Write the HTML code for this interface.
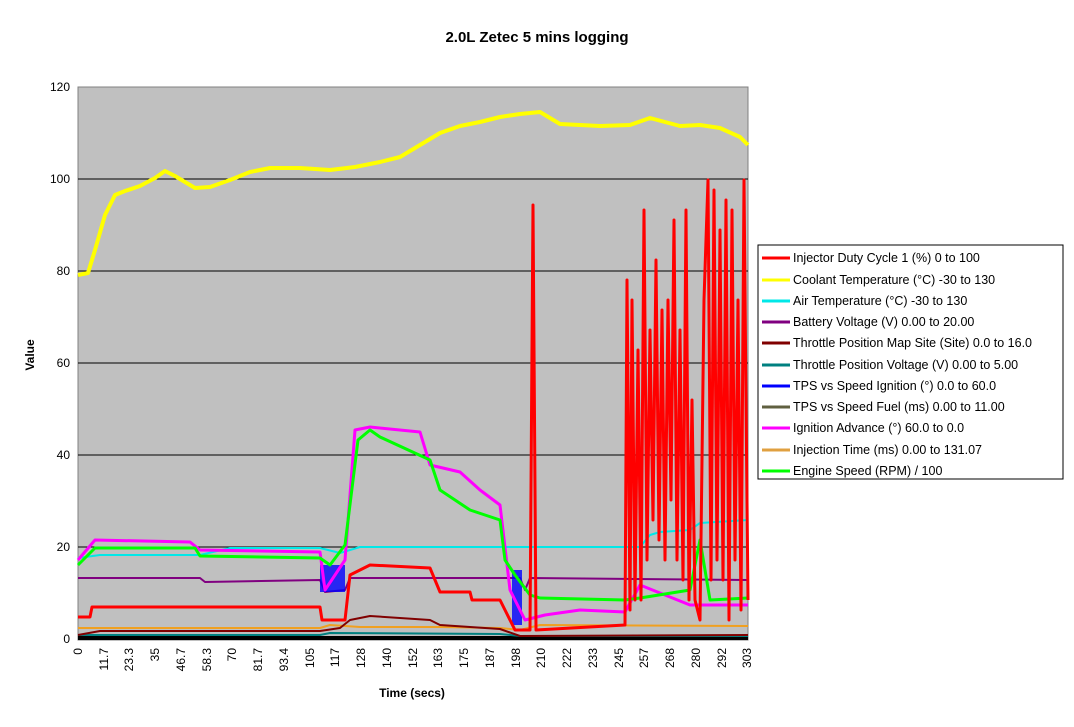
<!DOCTYPE html>
<html><head><meta charset="utf-8"><style>
body{margin:0;background:#fff;font-family:"Liberation Sans",Arial,sans-serif}
</style></head><body>
<svg width="1074" height="722" xmlns="http://www.w3.org/2000/svg" font-family="Liberation Sans, Arial, sans-serif">
<text x="537" y="42" font-size="15" font-weight="bold" text-anchor="middle">2.0L Zetec 5 mins logging</text>
<rect x="78" y="87" width="670" height="553" fill="#c0c0c0" stroke="#808080"/>
<g stroke="#000" stroke-width="1">
<line x1="78" x2="748" y1="179" y2="179"/><line x1="78" x2="748" y1="271" y2="271"/>
<line x1="78" x2="748" y1="363" y2="363"/><line x1="78" x2="748" y1="455" y2="455"/>
<line x1="78" x2="748" y1="547" y2="547"/>
</g>
<g font-size="12" text-anchor="end">
<text x="70" y="91">120</text><text x="70" y="183">100</text><text x="70" y="275">80</text>
<text x="70" y="367">60</text><text x="70" y="459">40</text><text x="70" y="551">20</text><text x="70" y="643">0</text>
</g>
<text transform="translate(34,355) rotate(-90)" font-size="12" font-weight="bold" text-anchor="middle">Value</text>
<text x="412" y="697" font-size="12" font-weight="bold" text-anchor="middle">Time (secs)</text>
<g fill="none" stroke-linejoin="round">
<line x1="78" x2="748" y1="638" y2="638" stroke="#000" stroke-width="4"/>
<polyline stroke="#008080" stroke-width="2" points="78,635 320,635 330,633 500,634 520,636 748,636"/>
<polyline stroke="#f0a020" stroke-width="2" points="78,628 320,628 330,625 360,627 440,627 500,628 520,630 540,625 748,626"/>
<polyline stroke="#800000" stroke-width="2" points="78,635 100,631 320,631 340,628 350,620 370,616 430,620 440,625 500,629 520,636 748,635"/>
<polyline stroke="#800080" stroke-width="2" points="78,578 200,578 205,582 320,580 325,592 345,590 350,578 520,578 525,590 530,578 748,580"/>
<rect x="320" y="565" width="25" height="27" fill="#0000ff" opacity="0.8"/>
<rect x="512" y="570" width="10" height="55" fill="#0000ff" opacity="0.8"/>
<polyline stroke="#00e8e8" stroke-width="2" points="78,558 100,555 200,555 230,548 320,548 340,553 360,547 640,547 650,535 660,532 690,530 700,523 748,520"/>
<polyline stroke="#ff00ff" stroke-width="3" points="78,560 95,540 190,542 200,550 320,552 325,590 345,560 355,430 370,427 420,432 430,465 460,472 480,490 500,505 510,590 525,620 545,615 580,610 625,612 640,585 690,605 700,605 748,605"/>
<polyline stroke="#00ff00" stroke-width="3" points="78,565 95,548 195,548 200,556 320,558 330,565 345,545 358,440 370,430 380,437 430,460 440,490 470,510 500,520 505,560 515,575 530,595 540,598 625,600 640,598 690,590 700,540 710,600 748,598"/>
<polyline stroke="#ff0000" stroke-width="3" points="78,617 90,617 92,607 320,607 322,620 345,620 350,575 370,565 430,568 440,592 470,592 472,600 500,600 505,610 515,630 530,630 533,205 536,630 625,625 627,280 630,610 632,300 635,600 638,350 641,600 644,210 647,560 650,330 653,520 656,260 659,540 662,310 665,560 668,300 671,500 674,220 677,560 680,330 683,580 686,210 689,600 692,400 695,600 700,620 704,300 708,180 711,580 714,190 717,560 720,230 723,580 726,200 729,620 732,210 735,560 738,300 741,610 744,180 746,400 748,600"/>
<polyline stroke="#ffff00" stroke-width="4" points="78,275 88,273 95,250 105,215 115,195 125,191 140,186 155,178 165,171 175,176 185,182 195,188 210,187 230,180 250,172 270,168 300,168 330,170 355,167 380,162 400,157 420,145 440,133 460,126 480,122 500,117 520,114 540,112 560,124 600,126 630,125 650,118 680,126 700,125 720,128 740,137 748,145"/>
</g>
<rect x="758" y="245" width="305" height="234" fill="#fff" stroke="#000"/>
<g font-size="12.5" fill="#000">
<g stroke-width="3">
<line x1="762" x2="790" y1="258" y2="258" stroke="#ff0000"/>
<line x1="762" x2="790" y1="280" y2="280" stroke="#ffff00"/>
<line x1="762" x2="790" y1="301" y2="301" stroke="#00e8e8"/>
<line x1="762" x2="790" y1="322" y2="322" stroke="#800080"/>
<line x1="762" x2="790" y1="343" y2="343" stroke="#800000"/>
<line x1="762" x2="790" y1="365" y2="365" stroke="#008080"/>
<line x1="762" x2="790" y1="386" y2="386" stroke="#0000ff"/>
<line x1="762" x2="790" y1="407" y2="407" stroke="#606040"/>
<line x1="762" x2="790" y1="428" y2="428" stroke="#ff00ff"/>
<line x1="762" x2="790" y1="450" y2="450" stroke="#e0a040"/>
<line x1="762" x2="790" y1="471" y2="471" stroke="#00ff00"/>
</g>
<text x="793" y="262">Injector Duty Cycle 1 (%) 0 to 100</text>
<text x="793" y="284">Coolant Temperature (°C) -30 to 130</text>
<text x="793" y="305">Air Temperature (°C) -30 to 130</text>
<text x="793" y="326">Battery Voltage (V) 0.00 to 20.00</text>
<text x="793" y="347">Throttle Position Map Site (Site) 0.0 to 16.0</text>
<text x="793" y="369">Throttle Position Voltage (V) 0.00 to 5.00</text>
<text x="793" y="390">TPS vs Speed Ignition (°) 0.0 to 60.0</text>
<text x="793" y="411">TPS vs Speed Fuel (ms) 0.00 to 11.00</text>
<text x="793" y="432">Ignition Advance (°) 60.0 to 0.0</text>
<text x="793" y="454">Injection Time (ms) 0.00 to 131.07</text>
<text x="793" y="475">Engine Speed (RPM) / 100</text>
</g>
<g font-size="12" text-anchor="end">
<text transform="translate(82,648) rotate(-90)">0</text>
<text transform="translate(108,648) rotate(-90)">11.7</text>
<text transform="translate(133,648) rotate(-90)">23.3</text>
<text transform="translate(159,648) rotate(-90)">35</text>
<text transform="translate(185,648) rotate(-90)">46.7</text>
<text transform="translate(211,648) rotate(-90)">58.3</text>
<text transform="translate(236,648) rotate(-90)">70</text>
<text transform="translate(262,648) rotate(-90)">81.7</text>
<text transform="translate(288,648) rotate(-90)">93.4</text>
<text transform="translate(314,648) rotate(-90)">105</text>
<text transform="translate(339,648) rotate(-90)">117</text>
<text transform="translate(365,648) rotate(-90)">128</text>
<text transform="translate(391,648) rotate(-90)">140</text>
<text transform="translate(417,648) rotate(-90)">152</text>
<text transform="translate(442,648) rotate(-90)">163</text>
<text transform="translate(468,648) rotate(-90)">175</text>
<text transform="translate(494,648) rotate(-90)">187</text>
<text transform="translate(520,648) rotate(-90)">198</text>
<text transform="translate(545,648) rotate(-90)">210</text>
<text transform="translate(571,648) rotate(-90)">222</text>
<text transform="translate(597,648) rotate(-90)">233</text>
<text transform="translate(623,648) rotate(-90)">245</text>
<text transform="translate(648,648) rotate(-90)">257</text>
<text transform="translate(674,648) rotate(-90)">268</text>
<text transform="translate(700,648) rotate(-90)">280</text>
<text transform="translate(726,648) rotate(-90)">292</text>
<text transform="translate(751,648) rotate(-90)">303</text>
</g>
</svg>
</body></html>
